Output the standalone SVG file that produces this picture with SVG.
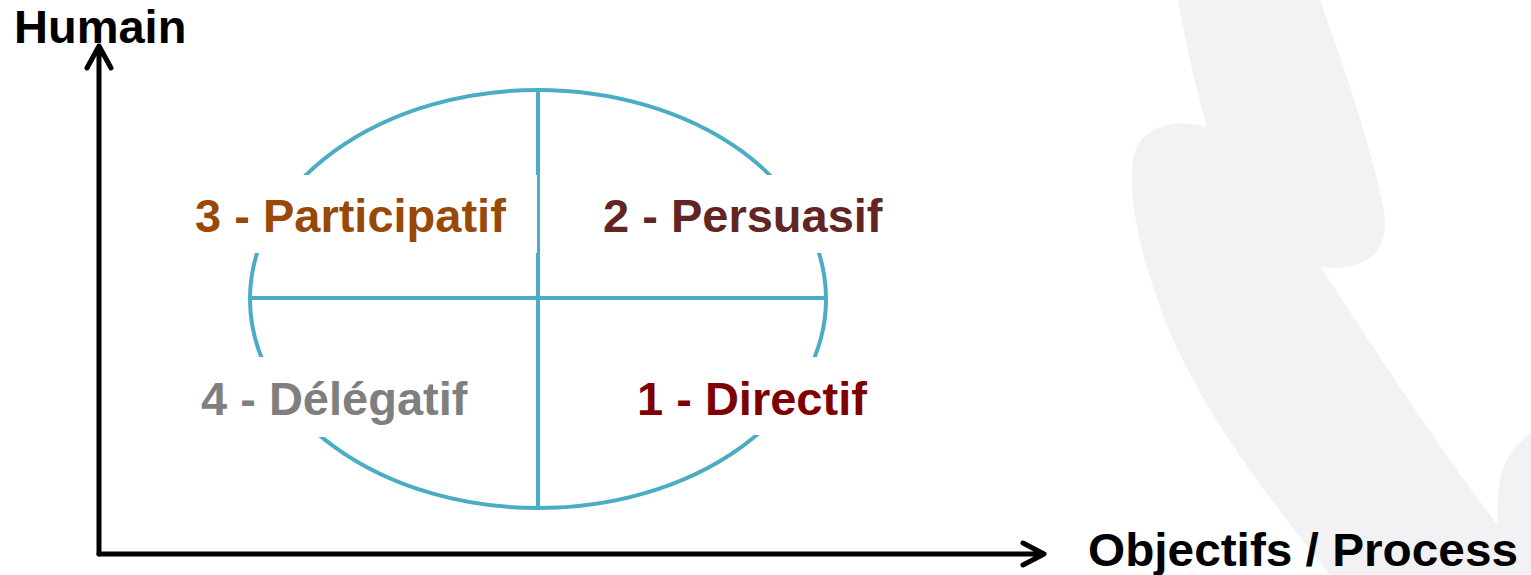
<svg xmlns="http://www.w3.org/2000/svg" width="1531" height="575" viewBox="0 0 1531 575">
<style>
.lbl{font-family:"Liberation Sans",Arial,sans-serif;font-weight:bold;font-size:47px}
.ax{stroke:#000;stroke-width:5;fill:none;stroke-linecap:round;stroke-linejoin:round}
.teal{stroke:#4BACC6;stroke-width:4;fill:none}
.wm{fill:#F2F2F4}
.bg{fill:#fff}
</style>
<rect width="1531" height="575" fill="#fff"/>
<g id="watermark">
<path class="wm" d="M1178 0 L1320 0 C1345 70 1372 150 1383 205 C1392 250 1370 268 1330 268 L1320 266 C1375 350 1440 450 1505 535 L1531 575 L1330 575 C1270 500 1200 410 1165 320 C1140 255 1128 200 1133 160 C1138 125 1175 118 1207 127 C1195 85 1185 40 1178 0 Z"/>
<path class="wm" d="M1531 433 C1515 445 1503 460 1499 485 C1496 510 1498 545 1500 575 L1531 575 Z"/>
</g>
<g id="connectors">
<path class="ax" d="M99 554 L99 47 M87 68 L99 46 L111 68"/>
<path class="ax" d="M99 554 L1042 554 M1023 543 L1044 554 L1023 565"/>
</g>
<g id="ellipse">
<ellipse class="teal" cx="538" cy="299" rx="288" ry="209"/>
<line class="teal" x1="538" y1="90" x2="538" y2="508"/>
<line class="teal" x1="250" y1="298" x2="826" y2="298"/>
</g>
<g id="q3">
<rect class="bg" x="190" y="175" width="347" height="78"/>
<text class="lbl" x="195" y="232" fill="#984807">3 - Participatif</text>
</g>
<g id="q2">
<rect class="bg" x="541" y="175" width="350" height="78"/>
<text class="lbl" x="603" y="232" fill="#632523">2 - Persuasif</text>
</g>
<g id="q4">
<rect class="bg" x="195" y="357" width="338" height="80"/>
<text class="lbl" x="201" y="415" fill="#7F7F7F">4 - Délégatif</text>
</g>
<g id="q1">
<rect class="bg" x="544" y="357" width="340" height="78"/>
<text class="lbl" x="637" y="415" fill="#7F0000">1 - Directif</text>
</g>
<g id="humain"><text class="lbl" x="14" y="43" fill="#000">Humain</text></g>
<g id="objectifs"><text class="lbl" x="1088" y="566" fill="#000" textLength="430" lengthAdjust="spacingAndGlyphs">Objectifs / Process</text></g>
</svg>
